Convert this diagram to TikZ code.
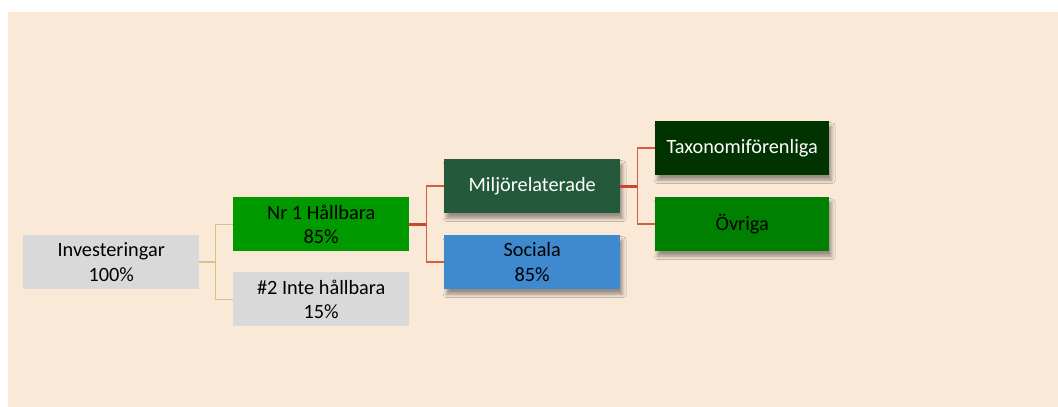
\documentclass[tikz,border=0pt]{standalone}
\usepackage{fontspec}
\setmainfont{Carlito}
\usetikzlibrary{calc,shadows.blur}
\definecolor{peach}{HTML}{FBE9D8}
\definecolor{boxgray}{HTML}{D9D9D9}
\definecolor{nrgreen}{HTML}{009900}
\definecolor{miljo}{HTML}{245A3B}
\definecolor{socblue}{HTML}{3F89CF}
\definecolor{taxo}{HTML}{003300}
\definecolor{ovriga}{HTML}{008000}
\definecolor{tanline}{HTML}{D5C486}
\definecolor{redline}{HTML}{C9472B}
\definecolor{redlight}{HTML}{D45E40}
\begin{document}
\begin{tikzpicture}[x=1pt,y=-1pt,
  box/.style={draw=none,inner sep=0pt,minimum width=176pt,minimum height=54pt,
    anchor=north west,align=center,font=\fontsize{20.3}{24.6}\selectfont},
  shad/.style={blur shadow={shadow xshift=2.5pt,shadow yshift=-5pt,shadow blur radius=3.5pt,shadow opacity=40}},
  tanstub/.style={draw=tanline,line width=2pt},
  tanbranch/.style={draw=tanline,line width=1.4pt},
  redstub/.style={draw=redline,line width=2.8pt},
  redbranch/.style={draw=redlight,line width=1.7pt}]
\path[use as bounding box,fill=white] (0,0) rectangle (1058,407);
\fill[peach] (8,12) rectangle (1058,407);
\node[box,fill=boxgray,text=black] (inv) at (23,235) {Investeringar\\100\%};
\node[box,fill=nrgreen,text=black] (nr1) at (233,197) {Nr 1 Hållbara\\85\%};
\node[box,fill=boxgray,text=black] (nr2) at (233,272) {\#2 Inte hållbara\\15\%};
\node[box,shad,fill=miljo,text=white] (mil) at (444,159) {Miljörelaterade};
\node[box,shad,fill=socblue,text=black] (soc) at (444,235) {Sociala\\85\%};
\node[box,shad,fill=taxo,text=white,minimum width=174pt] (tax) at (655,121) {Taxonomiförenliga};
\node[box,shad,fill=ovriga,text=black,minimum width=174pt] (ovr) at (655,197) {Övriga};
% connectors
\coordinate (j1) at ($(inv.east)+(16,0)$);
\coordinate (j2) at ($(nr1.east)+(17,0)$);
\coordinate (j3) at ($(mil.east)+(17,0)$);
\draw[tanbranch] (j1) |- (nr1.west);
\draw[tanbranch] (j1) |- (nr2.west);
\draw[tanstub] (inv.east) -- (j1);
\draw[redbranch] (j2) |- (mil.west);
\draw[redbranch] (j2) |- (soc.west);
\draw[redstub] (nr1.east) -- (j2);
\draw[redbranch] (j3) |- (tax.west);
\draw[redbranch] (j3) |- (ovr.west);
\draw[redstub] (mil.east) -- (j3);
\end{tikzpicture}
\end{document}
